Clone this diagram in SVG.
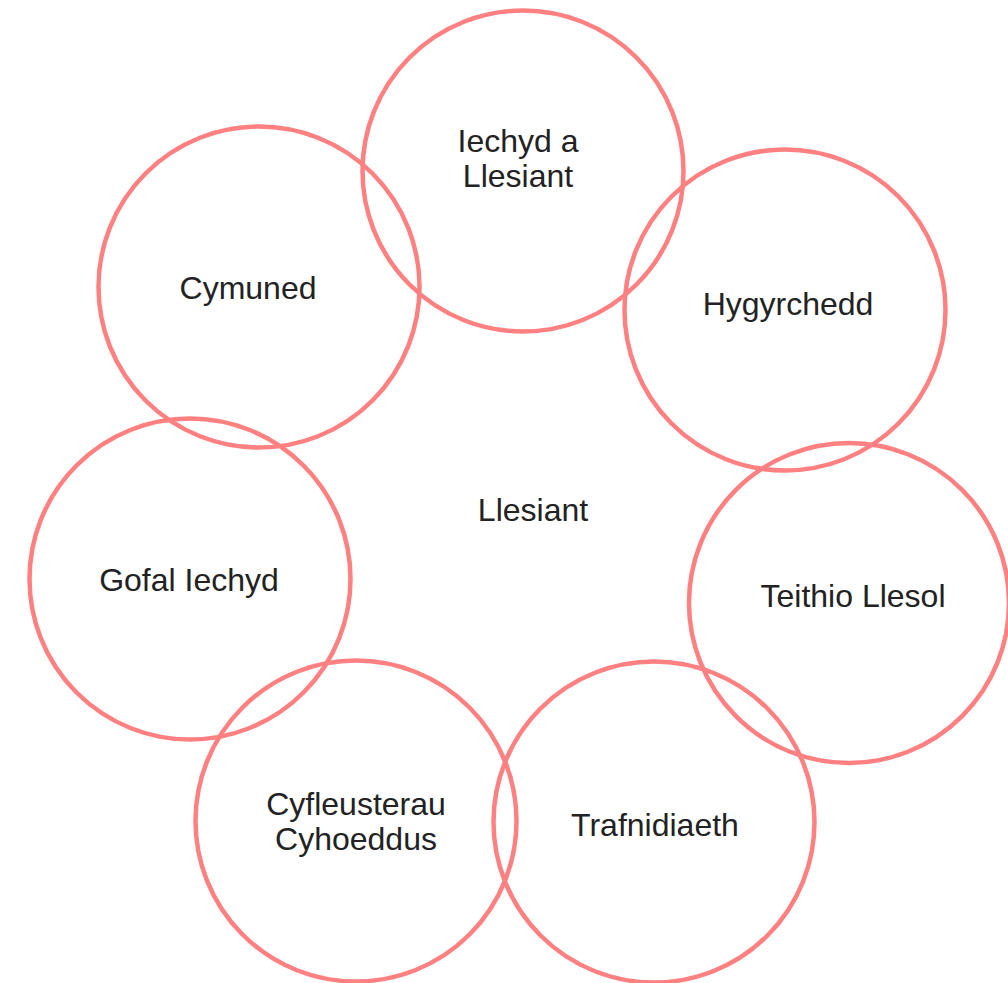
<svg xmlns="http://www.w3.org/2000/svg" width="1008" height="983" viewBox="0 0 1008 983">
<style>
.c{fill:none;stroke:#FF8080;stroke-width:4.5}
.t{font-family:"Liberation Sans",Arial,sans-serif;font-size:32px;fill:#222;text-anchor:middle}
</style>
<rect width="1008" height="983" fill="#fff"/>
<g id="connectors"></g>
<g id="n1"><circle class="c" cx="523" cy="171" r="160.5"/><text class="t" x="518" y="152">Iechyd a</text><text class="t" x="518" y="187">Llesiant</text></g>
<g id="n2"><circle class="c" cx="259" cy="287" r="160.5"/><text class="t" x="248" y="299">Cymuned</text></g>
<g id="n3"><circle class="c" cx="785" cy="310" r="160.5"/><text class="t" x="788" y="315">Hygyrchedd</text></g>
<g id="n4"><circle class="c" cx="849" cy="603" r="160"/><text class="t" x="853" y="607">Teithio Llesol</text></g>
<g id="n5"><circle class="c" cx="190" cy="579" r="160.5"/><text class="t" x="189" y="591">Gofal Iechyd</text></g>
<g id="n6"><circle class="c" cx="356" cy="821" r="160.5"/><text class="t" x="356" y="815">Cyfleusterau</text><text class="t" x="356" y="850">Cyhoeddus</text></g>
<g id="n7"><circle class="c" cx="654" cy="822" r="160.5"/><text class="t" x="655" y="836">Trafnidiaeth</text></g>
<g id="center"><text class="t" x="533" y="521">Llesiant</text></g>
</svg>
